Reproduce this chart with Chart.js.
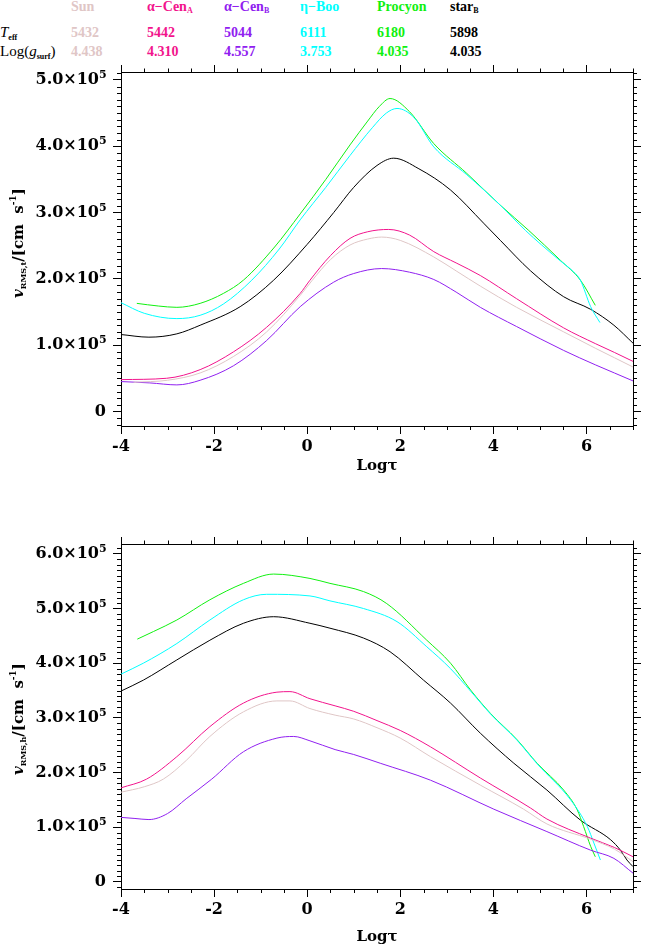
<!DOCTYPE html>
<html>
<head>
<meta charset="utf-8">
<script src="https://cdn.jsdelivr.net/npm/chart.js@4.4.1/dist/chart.umd.min.js"></script>
<style>
html,body{margin:0;padding:0;background:#fff;}
body{width:645px;height:946px;position:relative;overflow:hidden;}
.lg{position:absolute;font-family:"Liberation Serif",serif;font-weight:bold;font-size:14px;line-height:14px;white-space:nowrap;}
.lg sub{font-size:8px;line-height:0;vertical-align:-2px;}
.lbl{position:absolute;font-family:"Liberation Serif",serif;font-size:15px;line-height:15px;white-space:nowrap;color:#000;}
.lbl sub{font-size:8px;line-height:0;vertical-align:-3px;font-weight:bold;}
.yt{position:absolute;font-family:"DejaVu Serif",serif;font-weight:bold;font-size:15px;line-height:15px;white-space:nowrap;transform:translate(-50%,-50%) rotate(-90deg);color:#000;}
.yt sub{font-size:8px;line-height:0;vertical-align:-3px;}
.yt sup{font-size:9px;line-height:0;vertical-align:7px;}
canvas{position:absolute;left:0;}
</style>
</head>
<body>
<div id="legend"></div>
<canvas id="cTop" width="645" height="420" style="top:60px;width:645px;height:420px"></canvas>
<canvas id="cBot" width="645" height="414" style="top:532px;width:645px;height:414px"></canvas>
<div class="yt" style="left:18px;top:243px"><i>v</i><sub>RMS,t</sub>/[cm&nbsp;&nbsp;s<sup>-1</sup>]</div>
<div class="yt" style="left:18px;top:719px"><i>v</i><sub>RMS,h</sub>/[cm&nbsp;&nbsp;s<sup>-1</sup>]</div>
<script>
// ---------- tick values ----------
const tickX = [-4, -2, 0, 2, 4, 6];
const tickYTop = [0, 100000, 200000, 300000, 400000, 500000];
const tickYBot = [0, 100000, 200000, 300000, 400000, 500000, 600000];

// ---------- legend table ----------
const starNames = ['Sun', 'α−Cen', 'α−Cen', 'η−Boo', 'Procyon', 'star'];
const starSubs = ['', 'A', 'B', '', '', 'B'];
const teffValues = ['5432', '5442', '5044', '6111', '6180', '5898'];
const loggValues = ['4.438', '4.310', '4.557', '3.753', '4.035', '4.035'];
const starColors = ['#dfc6c6', '#f2148c', '#9020f0', '#00ffff', '#10f010', '#000000'];

// ---------- top panel: v_RMS,t (cm/s) vs log tau ----------
const sunT_x = [-3.73,-3.0,-2.3,-1.58,-0.87,-0.15,0.1,0.5,0.92,1.3,1.6,2.0,2.72,3.2,3.72,4.5,5.51,6.2,6.6,7.0];
const sunT_v = [44000,47000,58000,83000,120000,175000,197000,229000,251000,260000,263000,258000,233000,212000,189000,157000,120000,95000,81000,67000];
const magT_x = [-4.0,-3.02,-2.3,-1.58,-0.87,-0.15,0.05,0.5,0.92,1.3,1.75,2.2,2.72,3.2,3.72,4.5,5.51,6.2,6.6,7.0];
const magT_v = [48000,50000,63000,90000,127000,178000,197000,235000,261000,271000,274500,266000,241000,224000,205000,170000,126000,102000,89000,75500];
const purT_x = [-4.0,-3.38,-2.8,-2.3,-1.58,-0.87,-0.15,0.57,1.0,1.6,2.2,2.72,3.2,3.72,4.5,5.51,6.2,6.6,7.0];
const purT_v = [45000,43000,40000,47000,69000,107000,158000,195000,208000,215500,210000,199000,180000,157000,128000,92000,70000,58000,46000];
const blkT_x = [-4.0,-3.4,-2.8,-2.3,-1.44,-0.72,0.0,0.57,1.0,1.5,1.86,2.4,3.08,3.79,4.15,4.8,5.51,6.09,6.59,7.0];
const blkT_v = [116000,112000,117000,130000,158000,198000,252000,300000,338000,371000,382000,366000,334000,284000,258000,212000,173000,154000,130000,103000];
const greT_x = [-3.66,-3.2,-2.8,-2.3,-1.8,-1.37,-0.7,-0.15,0.4,0.92,1.3,1.55,1.78,2.2,2.72,3.43,4.15,4.76,5.44,5.87,6.19];
const greT_v = [163000,159000,157000,163000,178000,198000,248000,298000,350000,402000,438000,460000,472000,452000,404000,359000,311000,273000,228000,198000,160000];
const cyaT_x = [-4.0,-3.5,-2.8,-2.3,-1.8,-1.19,-0.6,-0.15,0.4,0.92,1.4,1.7,1.93,2.3,2.72,3.43,4.15,4.69,5.37,5.73,5.87,6.09,6.29];
const cyaT_v = [164000,148000,140000,145000,162000,198000,245000,289000,338000,386000,428000,450000,457000,443000,399000,357000,311000,273000,231000,210000,198000,158000,134000];

// ---------- bottom panel: v_RMS,h (cm/s) vs log tau ----------
const sunH_x = [-4.0,-3.5,-3.09,-2.6,-2.09,-1.37,-0.65,-0.37,0.06,0.6,1.0,1.5,2.0,2.65,3.72,4.65,5.15,6.09,6.6,7.0];
const sunH_v = [164000,174000,188000,222000,266000,311000,331000,331000,317000,305000,298000,282000,263000,229000,177000,133000,106000,78000,60000,37000];
const magH_x = [-4.0,-3.45,-2.8,-2.09,-1.37,-0.65,-0.37,0.06,0.6,1.0,1.5,2.0,2.65,3.72,4.8,5.15,6.09,6.6,7.0];
const magH_v = [172000,188000,229000,284000,327000,347000,348000,335000,322000,312000,295000,277000,247000,190000,135000,115000,80000,63000,46000];
const purH_x = [-4.0,-3.7,-3.4,-3.0,-2.6,-2.05,-1.37,-0.65,-0.29,0.06,0.6,1.0,1.57,2.65,4.01,5.15,6.09,6.59,7.0];
const purH_v = [118000,116000,114000,125000,152000,188000,238000,263000,266000,258000,242000,233000,217000,186000,133000,92000,58000,43000,16000];
const blkH_x = [-4.0,-3.52,-2.8,-2.09,-1.37,-0.72,0.06,0.49,1.21,1.78,2.5,3.08,3.72,4.44,5.15,5.87,6.52,6.73,6.87,7.0];
const blkH_v = [349000,369000,406000,442000,473000,485000,473000,464000,446000,421000,369000,327000,272000,217000,168000,113000,77000,58000,40000,28000];
const greH_x = [-3.65,-3.3,-2.8,-2.09,-1.37,-0.72,0.06,0.49,1.21,1.71,2.57,3.08,3.51,3.94,4.51,4.94,5.51,5.80,5.94,6.09,6.19];
const greH_v = [444000,458000,479000,516000,546000,563000,555000,546000,531000,509000,442000,400000,351000,308000,260000,217000,168000,132000,101000,65000,46000];
const cyaH_x = [-4.0,-3.52,-2.8,-2.09,-1.37,-0.87,0.06,0.49,1.21,1.93,2.57,3.08,3.51,3.94,4.51,4.94,5.66,6.02,6.16,6.30];
const cyaH_v = [380000,400000,436000,479000,516000,526000,523000,514000,500000,476000,430000,390000,349000,307000,259000,216000,150000,101000,71000,40000];

// ---------- legend (HTML text) ----------
(function(){
  const colX = [71, 147, 224, 300, 377, 450];
  let h = '';
  for (let i = 0; i < starNames.length; i++) {
    const c = starColors[i];
    h += '<div class="lg" style="left:' + colX[i] + 'px;top:0px;color:' + c + '">' + starNames[i] + (starSubs[i] ? '<sub>' + starSubs[i] + '</sub>' : '') + '</div>';
    h += '<div class="lg" style="left:' + colX[i] + 'px;top:26px;color:' + c + '">' + teffValues[i] + '</div>';
    h += '<div class="lg" style="left:' + colX[i] + 'px;top:45px;color:' + c + '">' + loggValues[i] + '</div>';
  }
  h += '<div class="lbl" style="left:0px;top:25px"><i>T</i><sub>eff</sub></div>';
  h += '<div class="lbl" style="left:0px;top:44px">Log(<i>g</i><sub>surf</sub>)</div>';
  document.getElementById('legend').innerHTML = h;
})();

// ---------- decoration plugin: minor ticks + y tick labels ----------
const decor = {
  id: 'decor',
  afterDraw(chart) {
    const ctx = chart.ctx, sc = chart.scales, ca = chart.chartArea;
    ctx.save();
    ctx.strokeStyle = '#000';
    ctx.lineWidth = 1;
    ctx.beginPath();
    for (let k = -8; k <= 14; k++) {
      if (k % 4 === 0) continue;
      const px = Math.round(sc.x.getPixelForValue(k * 0.5)) + 0.5;
      ctx.moveTo(px, ca.bottom); ctx.lineTo(px, ca.bottom + 4);
      ctx.moveTo(px, ca.top); ctx.lineTo(px, ca.top - 3.5);
    }
    for (let k = Math.ceil(sc.y.min / 1e4); k * 1e4 <= sc.y.max; k++) {
      if (k % 10 === 0) continue;
      const py = Math.round(sc.y.getPixelForValue(k * 1e4)) + 0.5;
      ctx.moveTo(ca.left, py); ctx.lineTo(ca.left - 4, py);
      ctx.moveTo(ca.right, py); ctx.lineTo(ca.right + 4, py);
    }
    ctx.stroke();
    ctx.fillStyle = '#000';
    for (const t of sc.y.ticks) {
      const py = sc.y.getPixelForValue(t.value);
      if (t.value === 0) {
        ctx.font = 'bold 16px "DejaVu Serif"';
        ctx.textAlign = 'right'; ctx.textBaseline = 'middle';
        ctx.fillText('0', 106, py);
      } else {
        const e = Math.floor(Math.log10(t.value) + 1e-9);
        const m = t.value / Math.pow(10, e);
        ctx.font = 'bold 11px "DejaVu Serif"';
        ctx.textAlign = 'left'; ctx.textBaseline = 'alphabetic';
        ctx.fillText(String(e), 99, py - 2);
        ctx.font = 'bold 16px "DejaVu Serif"';
        ctx.textAlign = 'right'; ctx.textBaseline = 'middle';
        ctx.fillText(m.toFixed(1) + '×10', 99, py);
      }
    }
    ctx.restore();
  }
};

function makeChart(id, series, yMin, yMax, yTicks, xAxisHeight, titlePadBottom) {
  const datasets = series.map(s => ({
    data: s.x.map((xv, i) => ({ x: xv, y: s.v[i] })),
    borderColor: s.color,
    backgroundColor: s.color,
    borderWidth: 1,
    pointRadius: 0,
    fill: false,
    cubicInterpolationMode: 'monotone'
  }));
  const tickFont = { family: '"DejaVu Serif"', weight: 'bold', size: 16 };
  const border = { display: true, color: '#000', width: 1 };
  const xTicksFn = s => { s.ticks = tickX.map(v => ({ value: v })); };
  const yTicksFn = s => { s.ticks = yTicks.map(v => ({ value: v })); };
  return new Chart(document.getElementById(id), {
    type: 'line',
    data: { datasets },
    options: {
      responsive: false, animation: false, events: [],
      layout: { padding: 0 },
      plugins: { legend: { display: false }, tooltip: { enabled: false } },
      scales: {
        x: {
          type: 'linear', position: 'bottom', min: -4, max: 7,
          afterBuildTicks: xTicksFn,
          afterFit: s => { s.height = xAxisHeight; },
          ticks: { color: '#000', font: tickFont, padding: 3, maxRotation: 0, autoSkip: false, callback: v => String(v) },
          grid: { drawOnChartArea: false, tickLength: 8, tickColor: '#000' },
          border: border,
          title: { display: true, text: 'Logτ', color: '#000', font: { family: '"DejaVu Serif"', weight: 'bold', size: 15 }, padding: { top: 0, bottom: titlePadBottom } }
        },
        x2: {
          type: 'linear', position: 'top', min: -4, max: 7,
          afterBuildTicks: xTicksFn,
          afterFit: s => { s.height = 12; },
          ticks: { display: false },
          grid: { drawOnChartArea: false, tickLength: 7, tickColor: '#000' },
          border: border
        },
        y: {
          type: 'linear', position: 'left', min: yMin, max: yMax,
          afterBuildTicks: yTicksFn,
          afterFit: s => { s.width = 121; },
          ticks: { display: false },
          grid: { drawOnChartArea: false, tickLength: 8, tickColor: '#000' },
          border: border
        },
        y2: {
          type: 'linear', position: 'right', min: yMin, max: yMax,
          afterBuildTicks: yTicksFn,
          afterFit: s => { s.width = 12; },
          ticks: { display: false },
          grid: { drawOnChartArea: false, tickLength: 8, tickColor: '#000' },
          border: border
        }
      }
    },
    plugins: [decor]
  });
}

const topSeries = [
  { x: sunT_x, v: sunT_v, color: starColors[0] },
  { x: magT_x, v: magT_v, color: starColors[1] },
  { x: purT_x, v: purT_v, color: starColors[2] },
  { x: cyaT_x, v: cyaT_v, color: starColors[3] },
  { x: greT_x, v: greT_v, color: starColors[4] },
  { x: blkT_x, v: blkT_v, color: starColors[5] }
];
const botSeries = [
  { x: sunH_x, v: sunH_v, color: starColors[0] },
  { x: magH_x, v: magH_v, color: starColors[1] },
  { x: purH_x, v: purH_v, color: starColors[2] },
  { x: cyaH_x, v: cyaH_v, color: starColors[3] },
  { x: greH_x, v: greH_v, color: starColors[4] },
  { x: blkH_x, v: blkH_v, color: starColors[5] }
];

makeChart('cTop', topSeries, -22000, 512000, tickYTop, 54, 5);
makeChart('cBot', botSeries, -13000, 618000, tickYBot, 57, 0);
</script>
</body>
</html>
